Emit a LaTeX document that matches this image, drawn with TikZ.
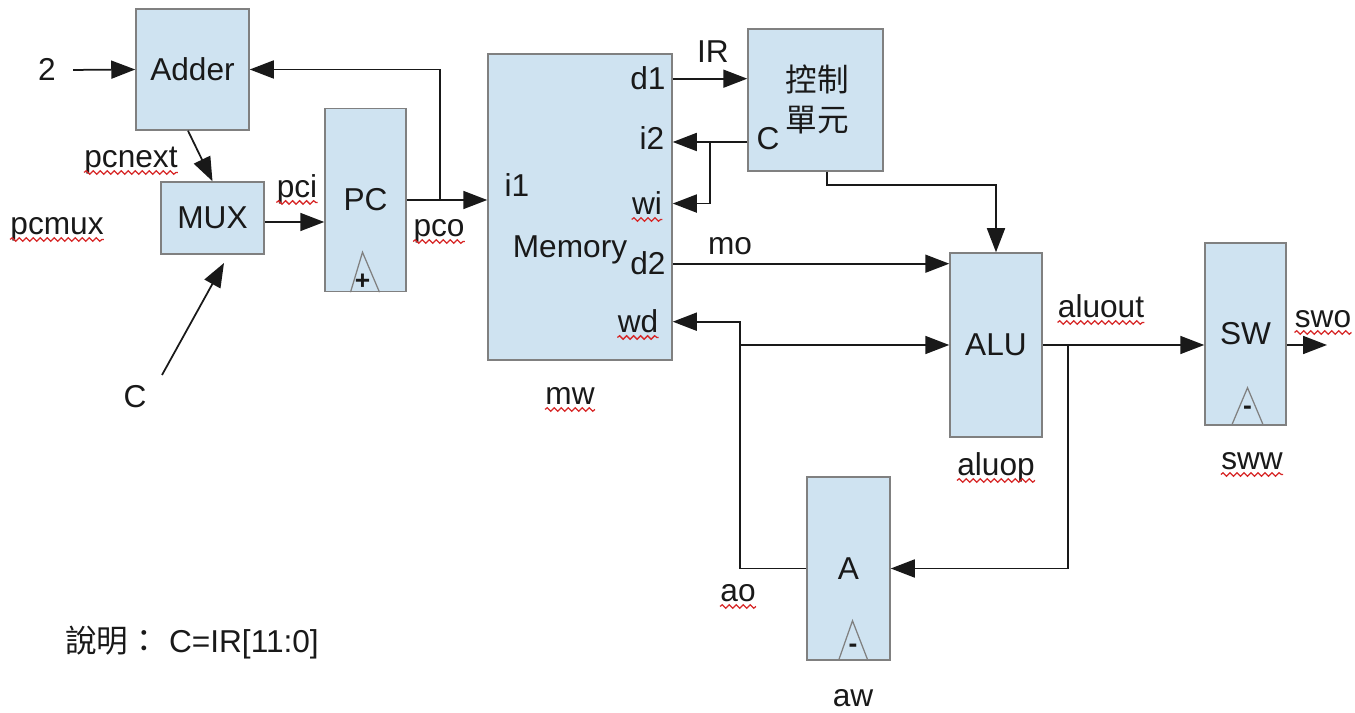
\documentclass[tikz,border=0pt]{standalone}
\usepackage{fontspec}
\setmainfont{Liberation Sans}
\newfontfamily\cjk{Noto Sans CJK TC}
\usetikzlibrary{arrows.meta,decorations.pathmorphing}
\definecolor{ink}{gray}{0.10}
\definecolor{edge}{gray}{0.50}
\definecolor{fillblue}{RGB}{207,227,241}
\definecolor{spell}{RGB}{215,40,40}
\tikzset{
  box/.style={draw=edge, line width=0.3mm, fill=fillblue, inner sep=0pt,
              font=\fontsize{18}{22}\selectfont, text=ink},
  flow/.style={-{Triangle[length=4.8mm,width=3.6mm]}, draw=ink, line width=0.35mm},
  wire/.style={draw=ink, line width=0.35mm},
  lbl/.style={inner sep=0pt, anchor=base, font=\fontsize{18}{22}\selectfont, text=ink},
  clk/.style={draw=edge, line width=0.25mm},
  sign/.style={inner sep=0pt, font=\fontsize{15}{15}\selectfont\bfseries, text=ink},
  wavy/.style={draw=spell, line width=0.25mm, decorate,
               decoration={snake, amplitude=0.35mm, segment length=1.4mm}},
}

\begin{document}
\begin{tikzpicture}[x=0.2mm, y=-0.2mm]
    \useasboundingbox (0,0) rectangle (1355,713);

    % blocks
    \node[box, minimum width=22.6mm, minimum height=24.2mm] (adder) at (192.5,69.5) {Adder};
    \node[box, minimum width=20.6mm, minimum height=14.4mm] (mux)   at (212.5,218)  {MUX};
    \node[box, minimum width=16.2mm, minimum height=36.6mm] (pc)    at (365.5,200)  {PC};
    \node[box, minimum width=36.8mm, minimum height=61.2mm] (mem)   at (580,207)    {};
    \node[box, minimum width=27mm,   minimum height=28.4mm] (ctl)   at (815.5,100)  {};
    \node[box, minimum width=18.4mm, minimum height=36.8mm] (alu)   at (996,345)    {ALU};
    \node[box, minimum width=16.2mm, minimum height=36.4mm] (sw)    at (1245.5,334) {SW};
    \node[box, minimum width=16.6mm, minimum height=36.6mm] (abox)  at (848.5,568.5){A};

    % clock marks
    \draw[clk] ([xshift=-3mm]pc.south) -- ([xshift=-0.6mm,yshift=8mm]pc.south) -- ([xshift=2.8mm]pc.south);
    \draw[clk] ([xshift=-2mm]abox.south) -- ([xshift=0.8mm,yshift=8mm]abox.south) -- ([xshift=3.9mm]abox.south);
    \draw[clk] ([xshift=-2.8mm]sw.south) -- ([xshift=0.4mm,yshift=7.6mm]sw.south) -- ([xshift=3.6mm]sw.south);
    \node[sign] (plus)    at ([xshift=-0.6mm,yshift=2mm]pc.south)    {+};
    \node[sign] (minusA)  at ([xshift=0.9mm,yshift=2.4mm]abox.south) {-};
    \node[sign] (minusSW) at ([xshift=0.4mm,yshift=3mm]sw.south)     {-};

    % labels
    \node[lbl] (two)    at (47,81)    {2};
    \node[lbl] (pcnext) at (131,168)  {pcnext};
    \node[lbl] (pcmux)  at (57,235)   {pcmux};
    \node[lbl] (pci)    at (297,198)  {pci};
    \node[lbl] (pco)    at (439,237)  {pco};
    \node[lbl] (cin)    at (135,408)  {C};
    \node[lbl] (i1)     at (517,197)  {i1};
    \node[lbl] (d1)     at (648,90)   {d1};
    \node[lbl] (i2)     at (652,150)  {i2};
    \node[lbl] (wi)     at (647,215)  {wi};
    \node[lbl] (memlbl) at (570,258)  {Memory};
    \node[lbl] (d2)     at (648,275)  {d2};
    \node[lbl] (wd)     at (638,333)  {wd};
    \node[lbl] (mw)     at (570,405)  {mw};
    \node[lbl] (ir)     at (713,63)   {IR};
    \node[lbl] (cl)     at (768,150)  {C};
    \node[lbl, font=\cjk\fontsize{18}{22}\selectfont] (ctl1) at (817,92)  {控制};
    \node[lbl, font=\cjk\fontsize{18}{22}\selectfont] (ctl2) at (817,132) {單元};
    \node[lbl] (mo)     at (730,255)  {mo};
    \node[lbl] (aluout) at (1101,318) {aluout};
    \node[lbl] (aluop)  at (996,476)  {aluop};
    \node[lbl] (swo)    at (1323,328) {swo};
    \node[lbl] (sww)    at (1252,470) {sww};
    \node[lbl] (ao)     at (738,602)  {ao};
    \node[lbl] (aw)     at (853,707)  {aw};
    \node[lbl, anchor=base west] (note) at (65,653) {{\cjk 說明：} C=IR[11:0]};

    % junctions and free ends
    \coordinate (jpc)   at (440,200);
    \coordinate (jc)    at (710,142);
    \coordinate (jw)    at (740,345);
    \coordinate (ja)    at (1068,345);
    \coordinate (ctip)  at (224,263);
    \coordinate (swotip) at (1327,345);

    % connectors
    \draw[flow] ([xshift=3.4mm]two.east) -- (adder.west);
    \draw[flow] ([xshift=-0.9mm]adder.south) -- (mux.north);
    \draw[flow] ([shift={(27,-33)}]cin.base) -- (ctip);
    \draw[flow] ([yshift=-0.8mm]mux.east) -- ([yshift=-0.8mm]mux.east -| pc.west);
    \draw[flow] (pc.east) -- (pc.east -| mem.west);
    \draw[flow] (jpc) |- (adder.east);
    \draw[flow] (mem.east |- d1) -- (ctl.west |- d1);
    \draw[flow] (ctl.west |- jc) -- (mem.east |- jc);
    \draw[flow] (jc) |- (mem.east |- wi);
    \draw[flow] ([xshift=2.3mm]ctl.south) -- ++(0,13) -| (alu.north);
    \draw[flow] (mem.east |- d2) -- (alu.west |- d2);
    \draw[flow] (jw) -- (alu.west);
    \draw[flow] (abox.west) -| (jw |- wd) -- (mem.east |- wd);
    \draw[flow] (alu.east) -- (alu.east -| sw.west);
    \draw[flow] (ja) |- (abox.east);
    \draw[flow] (sw.east |- alu.east) -- (swotip);

    % spell-check marks
    \foreach \n in {pcnext,pcmux,pci,pco,wi,wd,mw,aluout,aluop,swo,sww,ao}
      \draw[wavy] ([yshift=-0.9mm]\n.base west) -- ([yshift=-0.9mm]\n.base east);
\end{tikzpicture}
\end{document}
